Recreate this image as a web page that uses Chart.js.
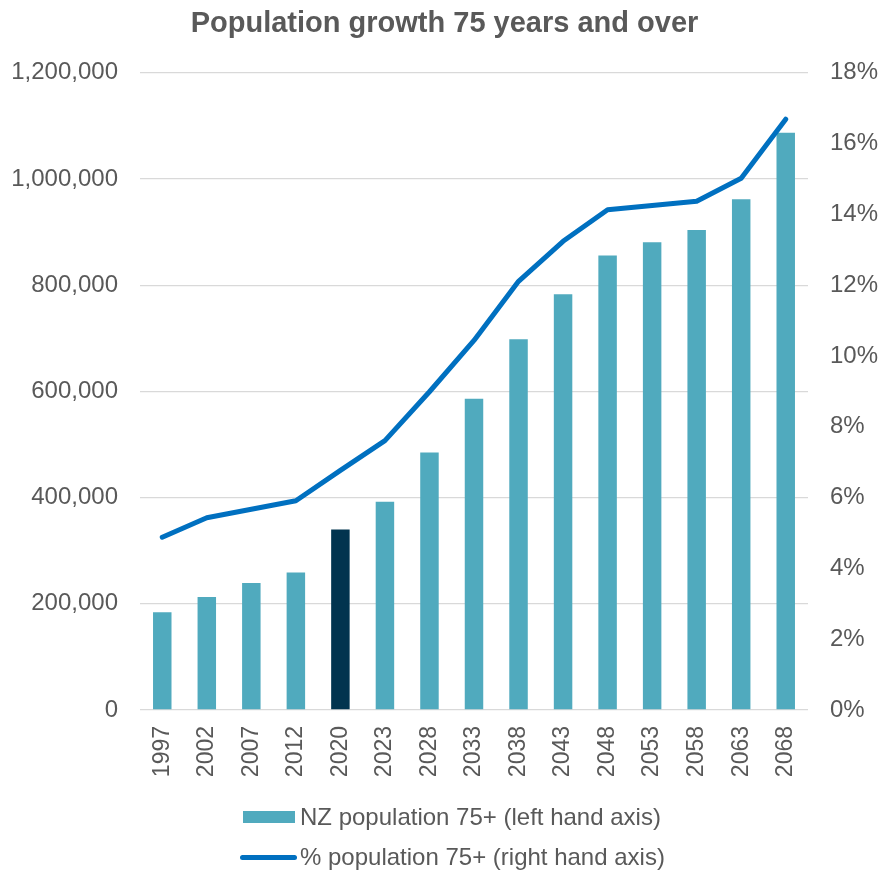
<!DOCTYPE html>
<html>
<head>
  <title>Population growth 75 years and over</title>
  <script src="https://cdn.jsdelivr.net/npm/chart.js"></script>
  <style>
    body {
      margin: 0;
      background: #fff;
      font-family: "Liberation Sans", Arial, sans-serif;
    }
    #wrap {
      position: relative;
      width: 889px;
      height: 870px;
    }
    #legend {
      position: absolute;
      left: 0;
      top: 796px;
      width: 889px;
      color: #595959;
      font-size: 24px;
    }
    .row {
      position: absolute;
      left: 240px;
      height: 30px;
      display: flex;
      align-items: center;
    }
    .swatch {
      width: 52px;
      margin-left: 3px;
      height: 12px;
      background: #50AABE;
    }
    .lineKey {
      width: 57px;
      height: 5px;
      border-radius: 3px;
      background: #0070C0;
    }
    .row span { margin-left: 3px; }
  </style>
</head>
<body>
  <div id="wrap">
    <canvas id="popChart" width="889" height="870"></canvas>
    <div id="legend">
      <div class="row" style="top:6px"><div class="swatch"></div><span style="margin-left:5px">NZ population 75+ (left hand axis)</span></div>
      <div class="row" style="top:46px"><div class="lineKey"></div><span>% population 75+ (right hand axis)</span></div>
    </div>
  </div>

  <script>
    const years = ['1997', '2002', '2007', '2012', '2020', '2023', '2028', '2033', '2038', '2043', '2048', '2053', '2058', '2063', '2068'];
    const pop75 = [184000, 213000, 239000, 259000, 340000, 392000, 485000, 586000, 698000, 783000, 856000, 881000, 904000, 962000, 1087000];
    const pct75 = [4.88, 5.43, 5.67, 5.91, 6.77, 7.61, 8.99, 10.44, 12.11, 13.24, 14.13, 14.25, 14.37, 15.02, 16.69];
    const highlightYear = '2020';

    const teal = '#50AABE';
    const navy = '#01344F';
    const blue = '#0070C0';
    const grey = '#595959';
    const font = '"Liberation Sans", Arial, sans-serif';

    const barColours = years.map(y => y === highlightYear ? navy : teal);

    const ctx = document.getElementById('popChart').getContext('2d');
    const popChart = new Chart(ctx, {
      data: {
        labels: years,
        datasets: [
          {
            type: 'line',
            label: '% population 75+ (right hand axis)',
            data: pct75,
            yAxisID: 'yRight',
            borderColor: blue,
            borderWidth: 5,
            borderCapStyle: 'round',
            borderJoinStyle: 'round',
            pointRadius: 0,
            tension: 0,
            order: 0
          },
          {
            type: 'bar',
            label: 'NZ population 75+ (left hand axis)',
            data: pop75,
            yAxisID: 'yLeft',
            backgroundColor: barColours,
            barPercentage: 0.415,
            categoryPercentage: 1,
            order: 1
          }
        ]
      },
      options: {
        responsive: false,
        animation: false,
        layout: { padding: { left: 0, right: 0, top: 0, bottom: 80 } },
        plugins: {
          legend: { display: false },
          tooltip: { enabled: false },
          title: {
            display: true,
            text: 'Population growth 75 years and over',
            color: grey,
            font: { family: font, size: 29, weight: 'bold' },
            padding: { top: 7, bottom: 31 }
          }
        },
        scales: {
          x: {
            grid: { display: false },
            border: { display: false },
            ticks: {
              color: grey,
              font: { family: font, size: 23 },
              minRotation: 90,
              maxRotation: 90,
              padding: 8
            },
            afterFit(scale) { scale.height = 80; }
          },
          yLeft: {
            position: 'left',
            min: 0,
            max: 1200000,
            border: { display: false },
            grid: { color: '#D9D9D9', lineWidth: 1.3, drawTicks: false },
            ticks: {
              stepSize: 200000,
              color: grey,
              font: { family: font, size: 24 },
              padding: 22,
              callback: v => v.toLocaleString('en-US')
            },
            afterFit(scale) { scale.width = 140; }
          },
          yRight: {
            position: 'right',
            min: 0,
            max: 18,
            border: { display: false },
            grid: { display: false, drawTicks: false },
            ticks: {
              stepSize: 2,
              color: grey,
              font: { family: font, size: 24 },
              padding: 22,
              callback: v => v + '%'
            },
            afterFit(scale) { scale.width = 81; }
          }
        }
      }
    });
  </script>
</body>
</html>
